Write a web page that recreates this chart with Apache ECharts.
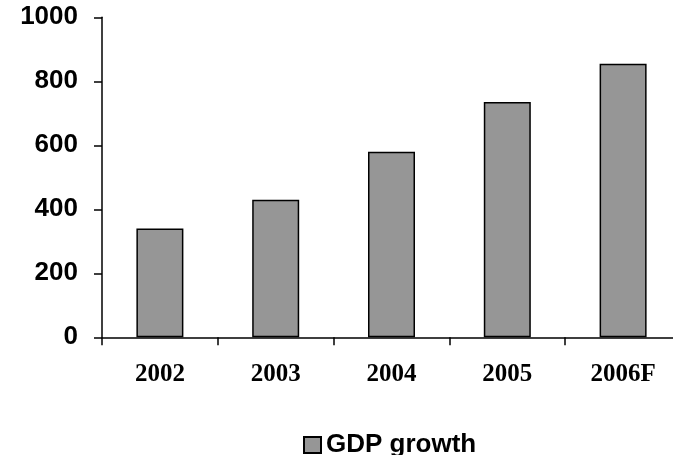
<!DOCTYPE html>
<html>
<head>
<meta charset="utf-8">
<script src="https://cdn.jsdelivr.net/npm/echarts@6/dist/echarts.min.js"></script>
<style>
  html, body { margin: 0; padding: 0; background: #fff; overflow: hidden; width: 673px; height: 455px; }
  /* canvas is a bit wider than the page so the plot area can run past the right edge */
  #chart { width: 690px; height: 455px; }
</style>
</head>
<body>
<div id="chart"></div>
<script>
// Yearly values (last year is a forecast)
const categories = ['2002', '2003', '2004', '2005', '2006F'];
const gdpGrowth = [340, 430, 580, 735, 855];
const seriesName = 'GDP growth';
const yTicks = [0, 200, 400, 600, 800, 1000];

const chart = echarts.init(document.getElementById('chart'), null, { renderer: 'canvas' });

chart.setOption({
  animation: false,
  backgroundColor: '#ffffff',
  grid: { left: 102, right: 9, top: 17.3, height: 320, containLabel: false },
  legend: {
    data: [seriesName],
    left: 298,
    top: 427,
    itemWidth: 17,
    itemHeight: 16,
    itemGap: 10,
    icon: 'rect',
    textStyle: { fontFamily: 'Liberation Sans, Arial, sans-serif', fontWeight: 'bold', fontSize: 26, color: '#000', padding: [0, 0, 0, 0] }
  },
  xAxis: {
    type: 'category',
    data: categories,
    boundaryGap: true,
    axisLine: { show: true, lineStyle: { color: '#000', width: 1.5 } },
    axisTick: { show: true, alignWithLabel: false, length: 8, lineStyle: { color: '#000', width: 1.5 } },
    axisLabel: { margin: 25, color: '#000', fontFamily: 'Liberation Serif, Times New Roman, serif', fontWeight: 'bold', fontSize: 25 },
    splitLine: { show: false }
  },
  yAxis: {
    type: 'value',
    min: yTicks[0],
    max: yTicks[yTicks.length - 1],
    interval: yTicks[1] - yTicks[0],
    axisLine: { show: true, lineStyle: { color: '#000', width: 1.5 } },
    axisTick: { show: true, length: 8, lineStyle: { color: '#000', width: 1.5 } },
    axisLabel: {
      margin: 24, color: '#000', fontFamily: 'Liberation Sans, Arial, sans-serif', fontWeight: 'bold', fontSize: 26,
      formatter: v => String(v)
    },
    splitLine: { show: false }
  },
  series: [{
    name: seriesName,
    type: 'bar',
    data: gdpGrowth,
    barWidth: 47,
    itemStyle: { color: '#969696', borderColor: '#000', borderWidth: 1.5 }
  }]
});
</script>
</body>
</html>
